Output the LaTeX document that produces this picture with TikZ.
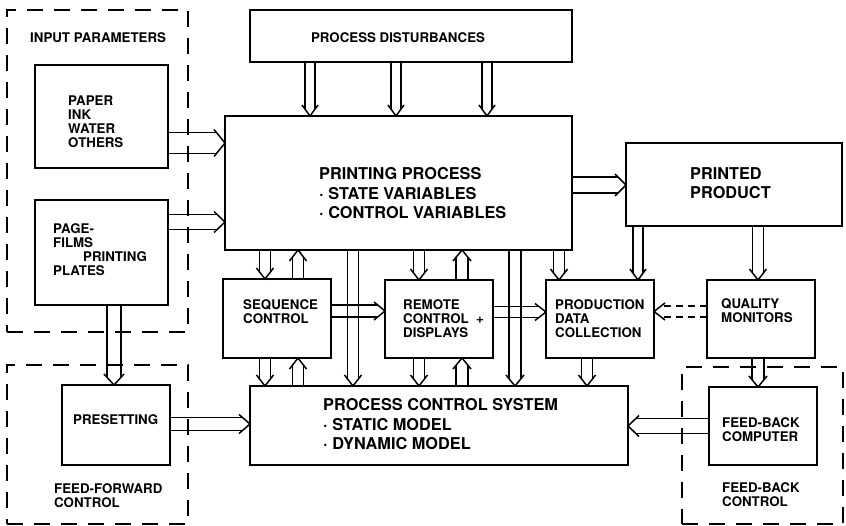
\documentclass[tikz,border=0pt]{standalone}
\usepackage{fontspec}
\setmainfont{TeX Gyre Heros}
\usetikzlibrary{calc,fit}
\tikzset{
  box/.style={draw, line width=1.8pt, inner sep=0pt, outer sep=0pt},
  dbox/.style={box, dash pattern=on 16pt off 11pt},
  arr/.style={line width=1.5pt, line join=miter},
  txt/.style={font=\fontsize{13.3}{14}\selectfont\bfseries, align=left, inner sep=0pt, anchor=north west},
  bigtxt/.style={font=\fontsize{16.3}{19.5}\selectfont\bfseries, align=left, inner sep=0pt, anchor=north west},
  dashedshaft/.style={dash pattern=on 7pt off 5pt}
}
% hollow block arrow: [shaft options]{start}{tip}{half shaft width}{half head width}
\newcommand\fat[5][]{%
  \pgfmathsetmacro\fatd{11*#4/#5}%
  \coordinate (fs) at (#2);
  \coordinate (ft) at (#3);
  \coordinate (fh) at ($(ft)!11pt!(fs)$);
  \coordinate (fm) at ($(ft)!\fatd pt!(fs)$);
  \draw[arr,#1] ($(fs)!#4pt!90:(ft)$) -- ($(fm)!#4pt!90:(ft)$)
                ($(fs)!#4pt!-90:(ft)$) -- ($(fm)!#4pt!-90:(ft)$);
  \draw[arr] ($(fh)!#5pt!90:(ft)$) -- (ft) -- ($(fh)!#5pt!-90:(ft)$);
}
\begin{document}
\begin{tikzpicture}[x=1pt,y=-1pt]
\useasboundingbox (0,0) rectangle (846,526);
\fill[white] (0,0) rectangle (846,526);

% dashed groups
\node[dbox, fit={(7,10) (188,332)}] (inpar) {};
\node[dbox, fit={(7,365) (188,524)}] (ffwd) {};
\node[dbox, fit={(682,367) (843,524)}] (fback) {};

% boxes
\node[box, fit={(35,65) (168,168)}] (paper) {};
\node[box, fit={(35,200) (168,305)}] (page) {};
\node[box, fit={(62,385) (170,465)}] (preset) {};
\node[box, fit={(250,10) (572,62)}] (dist) {};
\node[box, fit={(225,116) (572,250)}] (print) {};
\node[box, fit={(626,143) (842,226)}] (product) {};
\node[box, fit={(223,279) (331,358)}] (seq) {};
\node[box, fit={(385,280) (493,358)}] (remote) {};
\node[box, fit={(546,280) (654,358)}] (pdc) {};
\node[box, fit={(707,280) (815,358)}] (qm) {};
\node[box, fit={(709,387) (817,465)}] (fbcomp) {};
\node[box, fit={(250,386) (628,465)}] (pcs) {};

% texts
\node[txt] (tinpar) at (30,32.4) {INPUT PARAMETERS};
\node[txt] (tpaper) at (68,95.4) {PAPER\\INK\\WATER\\OTHERS};
\node[txt] (tpage) at (53,223.4) {PAGE-\\FILMS\\\hspace*{30pt}PRINTING\\PLATES};
\node[txt] (tpreset) at (73,414.4) {PRESETTING};
\node[txt] (tffwd) at (54,483.4) {FEED-FORWARD\\CONTROL};
\node[txt, anchor=center] (tdist) at (398,38) {PROCESS DISTURBANCES};
\node[bigtxt] (tprint) at (319,167.3) {PRINTING PROCESS\\· STATE VARIABLES\\· CONTROL VARIABLES};
\node[bigtxt] (tproduct) at (690,167.3) {PRINTED\\PRODUCT};
\node[txt] (tseq) at (243,299.4) {SEQUENCE\\CONTROL};
\node[txt] (tremote) at (403,299.4) {REMOTE\\CONTROL \ +\\DISPLAYS};
\node[txt] (tpdc) at (555,299.4) {PRODUCTION\\DATA\\COLLECTION};
\node[txt] (tqm) at (721,298.4) {QUALITY\\MONITORS};
\node[bigtxt] (tpcs) at (323,398.3) {PROCESS CONTROL SYSTEM\\· STATIC MODEL\\· DYNAMIC MODEL};
\node[txt] (tfbcomp) at (722,417.4) {FEED-BACK\\COMPUTER};
\node[txt] (tfback) at (722,482.4) {FEED-BACK\\CONTROL};

% arrows: inputs
\fat{paper.east |- 0,143}{print.west |- 0,143}{10.5}{13.5}
\fat{page.east |- 0,222}{print.west |- 0,222}{7.5}{10.5}
\fat{page.south -| 114,0}{preset.north -| 114,0}{7}{10}
\fat{preset.east |- 0,424}{pcs.west |- 0,424}{6.5}{9.5}
% disturbances
\fat{dist.south -| 310,0}{print.north -| 310,0}{5}{8}
\fat{dist.south -| 396,0}{print.north -| 396,0}{5}{8}
\fat{dist.south -| 487,0}{print.north -| 487,0}{5}{8}
% printing process to product
\fat{print.east |- 0,185}{product.west |- 0,185}{8}{11}
% printing process <-> middle row
\fat{print.south -| 265,0}{seq.north -| 265,0}{5.5}{8.5}
\fat{seq.north -| 298,0}{print.south -| 298,0}{5.5}{8.5}
\fat{print.south -| 353,0}{pcs.north -| 353,0}{5.5}{8.5}
\fat{print.south -| 419,0}{remote.north -| 419,0}{5.5}{8.5}
\fat{remote.north -| 462,0}{print.south -| 462,0}{6}{9}
\fat{print.south -| 515,0}{pcs.north -| 515,0}{6}{9}
\fat{print.south -| 559,0}{pdc.north -| 559,0}{5.5}{8.5}
% middle row <-> process control system
\fat{seq.south -| 265,0}{pcs.north -| 265,0}{5.5}{8.5}
\fat{pcs.north -| 298,0}{seq.south -| 298,0}{5.5}{8.5}
\fat{remote.south -| 419,0}{pcs.north -| 419,0}{5.5}{8.5}
\fat{pcs.north -| 462,0}{remote.south -| 462,0}{6}{9}
\fat{pdc.south -| 587,0}{pcs.north -| 587,0}{5.5}{8.5}
% product / quality
\fat{product.south -| 638,0}{pdc.north -| 638,0}{5}{8}
\fat{product.south -| 758,0}{qm.north -| 758,0}{5.5}{8.5}
\fat{qm.south -| 758,0}{fbcomp.north -| 758,0}{6}{9}
\fat{fbcomp.west |- 0,426}{pcs.east |- 0,426}{7.5}{10.5}
% horizontal middle row
\fat{seq.east |- 0,311}{remote.west |- 0,311}{6}{9}
\fat{remote.east |- 0,312}{pdc.west |- 0,312}{5.5}{8.5}
\fat[dashedshaft]{qm.west |- 0,311.5}{pdc.east |- 0,311.5}{5.5}{8.5}
\end{tikzpicture}
\end{document}
